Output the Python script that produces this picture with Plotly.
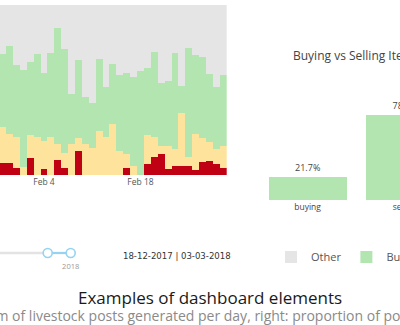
import plotly.graph_objects as go
import pandas as pd

# ---------------- data ----------------
dates = pd.date_range("2018-01-29", "2018-03-02", freq="D").strftime("%Y-%m-%d").tolist()

# daily share of posts per category (percent of the day's posts)
health = [6.9, 6.9, 4.1, 0.0, 10.2, 0.0, 3.4, 0.0, 8.8, 4.3, 0.0, 14.3, 0.0, 0.0, 0.0, 0.0, 0.0,
          0.0, 3.9, 0.0, 0.0, 6.6, 10.8, 12.5, 3.4, 5.3, 5.3, 5.3, 2.8, 7.8, 8.4, 6.6, 4.4]
services = [21.5, 17.0, 18.4, 4.9, 13.3, 22.2, 16.8, 22.5, 9.4, 8.5, 18.1, 7.3, 18.2, 16.1, 25.9, 22.5, 29.8,
            14.3, 8.5, 5.3, 0.0, 16.9, 11.7, 4.7, 13.8, 10.0, 31.3, 5.1, 21.1, 13.8, 10.8, 8.7, 12.8]
buysell = [42.8, 52.0, 42.2, 56.9, 43.1, 49.0, 40.0, 49.4, 68.1, 61.1, 29.5, 46.0, 27.5, 26.1, 42.2, 29.4, 35.3,
           44.5, 47.4, 52.2, 61.4, 39.3, 49.7, 37.1, 38.3, 56.3, 15.9, 64.1, 46.7, 47.6, 40.2, 36.3, 41.6]
other = [28.8, 24.1, 35.3, 38.2, 33.4, 28.8, 39.8, 28.1, 13.7, 26.1, 52.4, 32.4, 54.3, 57.8, 31.9, 48.1, 34.9,
         41.2, 40.2, 42.5, 38.6, 37.2, 27.8, 45.7, 44.5, 28.4, 47.5, 25.5, 29.4, 30.8, 40.6, 48.4, 41.2]

tick_dates = ["2018-02-04", "2018-02-18"]
tick_labels = ["Feb 4", "Feb 18"]

bs_categories = ["buying", "selling"]
bs_values = [21.7, 78.3]

slider_min = "2017-01-01"
slider_start = "2017-12-18"
slider_end = "2018-03-03"
slider_label = "2018"
date_text = "18-12-2017 | 03-03-2018"

title_text = "Examples of dashboard elements"
subtitle_text = ("Left: histogram of livestock posts generated per day, "
                 "right: proportion of posts buying vs selling")

# ---------------- styling ----------------
W, H = 700, 325
C_OTHER = "#e5e5e5"
C_BUY = "#b3e5b1"
C_SERV = "#fde39c"
C_HEALTH = "#c00013"
C_SLIDER = "#94d3f2"
FONT = "Open Sans, Arial, sans-serif"


def px_x(p):
    return p / W


def px_y(p):
    return 1 - p / H


fig = go.Figure()

for name, vals, col in [("Health", health, C_HEALTH), ("Services", services, C_SERV),
                        ("Buy/Sell", buysell, C_BUY), ("Other", other, C_OTHER)]:
    fig.add_trace(go.Bar(x=dates, y=vals, name=name, marker=dict(color=col, line=dict(width=0)),
                         xaxis="x", yaxis="y"))

fig.add_trace(go.Bar(x=bs_categories, y=bs_values, width=0.8, marker=dict(color=C_BUY, line=dict(width=0)),
                     texttemplate="%{y:.1f}%", textposition="outside", cliponaxis=False,
                     textfont=dict(size=9, color="#444", family=FONT),
                     showlegend=False, xaxis="x2", yaxis="y2"))

# date range slider
fig.add_trace(go.Scatter(x=[slider_min, slider_end], y=[0, 0], mode="lines",
                         line=dict(color="#e3e3e3", width=2.5), showlegend=False,
                         hoverinfo="skip", xaxis="x3", yaxis="y3", cliponaxis=False))
fig.add_trace(go.Scatter(x=[slider_start, slider_end], y=[0, 0], mode="lines+markers",
                         line=dict(color=C_SLIDER, width=2),
                         marker=dict(symbol="circle", size=9, color="white",
                                     line=dict(color=C_SLIDER, width=1.6)),
                         showlegend=False, hoverinfo="skip", xaxis="x3", yaxis="y3", cliponaxis=False))

# x range of the daily chart (left edge lies inside the first visible day)
x_left = pd.Timestamp(dates[0]) - pd.Timedelta(hours=9)
x_right = pd.Timestamp(dates[-1]) + pd.Timedelta(hours=12)

# slider axis range from the handle positions
h0_px, h1_px, s_right_px = 47.7, 70.7, 120.0
d0, d1 = pd.Timestamp(slider_start), pd.Timestamp(slider_end)
px_per_day = (h1_px - h0_px) / (d1 - d0).days
s_lo = d0 - pd.Timedelta(days=h0_px / px_per_day)
s_hi = d1 + pd.Timedelta(days=(s_right_px - h1_px) / px_per_day)

fig.update_layout(
    width=W, height=H,
    margin=dict(l=0, r=0, t=0, b=0),
    paper_bgcolor="white", plot_bgcolor="white",
    barmode="stack", bargap=0,
    font=dict(family=FONT, color="#444"),
    showlegend=True,
    legend=dict(orientation="h", x=px_x(271), y=px_y(257), xanchor="left", yanchor="middle",
                traceorder="reversed", font=dict(size=11, color="#555", family=FONT),
                bgcolor="rgba(0,0,0,0)"),
    xaxis=dict(domain=[0, px_x(226.7)], range=[x_left, x_right], type="date",
               tickvals=tick_dates, ticktext=tick_labels, tickfont=dict(size=8.5, color="#555"),
               showgrid=False, zeroline=False, showline=False, ticks=""),
    yaxis=dict(domain=[px_y(175), px_y(5)], range=[0, 100], showticklabels=False,
               showgrid=False, zeroline=False),
    xaxis2=dict(domain=[px_x(258.7), px_x(454.1)], range=[-0.5, 1.5], anchor="y2",
                tickfont=dict(size=8.5, color="#444"), showgrid=False, zeroline=False, ticks=""),
    yaxis2=dict(domain=[px_y(200), px_y(92)], range=[0, 100], anchor="x2", visible=False),
    xaxis3=dict(domain=[0, px_x(s_right_px)], range=[s_lo, s_hi], type="date", anchor="y3",
                tickvals=[slider_end], ticktext=[slider_label], tickfont=dict(size=7.5, color="#999"),
                showgrid=False, zeroline=False, showline=False, ticks=""),
    yaxis3=dict(domain=[px_y(260), px_y(246)], range=[-1, 1], anchor="x3", visible=False),
)

fig.add_annotation(text="Buying vs Selling Items", xref="paper", yref="paper",
                   x=px_x(356.4), y=px_y(55.7), xanchor="center", yanchor="middle", showarrow=False,
                   font=dict(size=12, color="#444", family=FONT))
fig.add_annotation(text=date_text, xref="paper", yref="paper",
                   x=px_x(177), y=px_y(255.7), xanchor="center", yanchor="middle", showarrow=False,
                   font=dict(size=9.5, color="#333",
                             family="Liberation Sans Narrow, Arial Narrow, DejaVu Sans Condensed, Arial"))
fig.add_annotation(text=title_text, xref="paper", yref="paper",
                   x=px_x(209.5), y=px_y(297.5), xanchor="center", yanchor="middle", showarrow=False,
                   font=dict(size=17, color="#1a1a1a", family=FONT))
fig.add_annotation(text=subtitle_text, xref="paper", yref="paper",
                   x=px_x(219.5), y=px_y(315.5), xanchor="center", yanchor="middle", showarrow=False,
                   font=dict(size=14, color="#8a8a8a", family=FONT))

fig.write_html("out.html", config={"displayModeBar": False},
               post_script="document.body.style.overflow='hidden';document.documentElement.style.overflow='hidden';")
